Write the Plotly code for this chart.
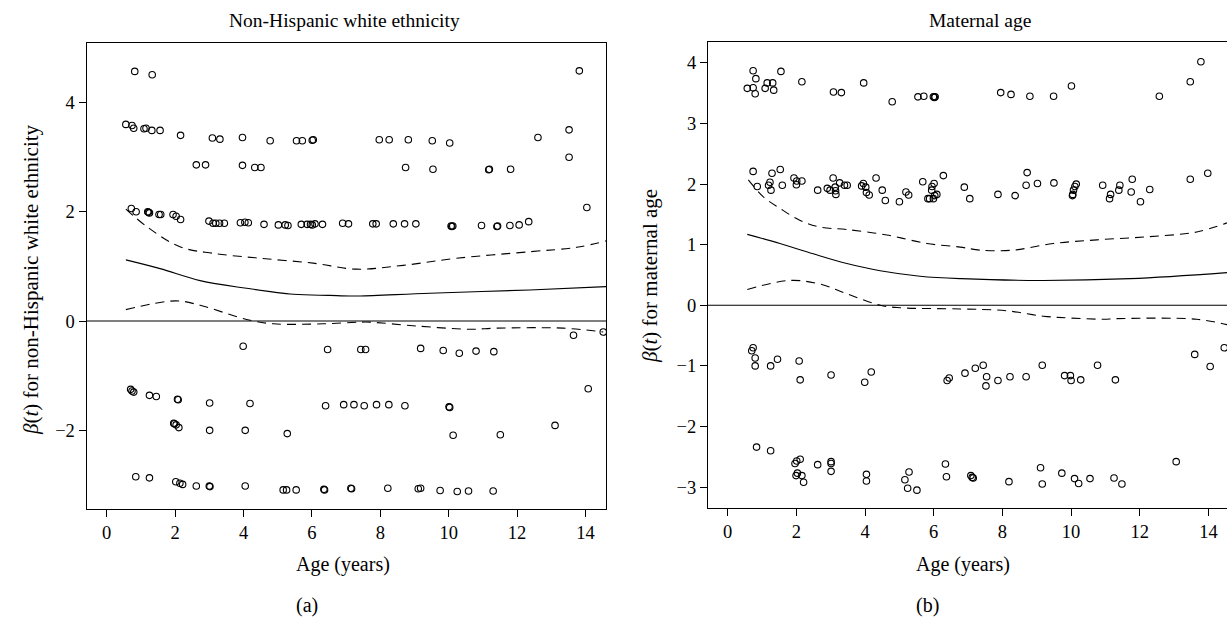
import plotly.graph_objects as go

# ---------------- Data: panel (a) Non-Hispanic white ethnicity ----------------
a_pts_x = [0.82, 1.33, 13.82,
           0.56, 0.74, 0.79, 1.09, 1.15, 1.32, 1.56, 2.16, 3.09, 3.31, 3.97, 4.78, 5.55, 5.72, 6.01, 6.04,
           7.97, 8.26, 8.82, 9.52, 10.03, 12.61, 13.52,
           2.62, 2.89, 3.97, 4.33, 4.51, 8.74, 9.54, 11.17, 11.19, 11.81, 13.52,
           0.72, 0.86, 1.20, 1.22, 1.25, 1.53, 1.58, 1.94, 2.03, 2.16, 2.99, 3.11, 3.19, 3.30, 3.44,
           3.91, 4.04, 4.14, 4.60, 5.02, 5.22, 5.30, 5.69, 5.86, 5.96, 6.01, 6.09, 6.31, 6.90, 7.07,
           7.78, 7.88, 8.38, 8.71, 9.04, 10.07, 10.09, 10.12, 10.96, 11.41, 11.43, 11.79, 12.06, 12.34, 14.04,
           3.99, 6.46, 7.43, 7.57, 9.18, 9.84, 10.31, 10.80, 11.32, 13.65, 14.52,
           0.70, 0.74, 0.79, 1.25, 1.45, 2.07, 2.09, 3.01, 4.19, 6.40, 6.93, 7.23, 7.53, 7.89, 8.25, 8.72,
           10.01, 10.03, 14.08,
           1.96, 1.98, 2.03, 2.11, 3.01, 4.05, 5.28, 10.13, 11.51, 13.11,
           0.85, 1.25, 2.02, 2.14, 2.22, 2.62, 3.00, 3.02, 4.05, 5.16, 5.26, 5.54, 6.35, 6.37, 7.14, 7.16,
           8.22, 9.11, 9.18, 9.75, 10.25, 10.58, 11.30]
a_pts_y = [4.57, 4.51, 4.58,
           3.60, 3.58, 3.53, 3.52, 3.53, 3.49, 3.49, 3.40, 3.35, 3.33, 3.36, 3.30, 3.30, 3.30, 3.31, 3.32,
           3.32, 3.32, 3.32, 3.30, 3.26, 3.36, 3.50,
           2.86, 2.86, 2.85, 2.81, 2.81, 2.81, 2.78, 2.77, 2.78, 2.78, 3.00,
           2.06, 2.00, 2.00, 1.99, 1.98, 1.95, 1.95, 1.95, 1.92, 1.86, 1.83, 1.79, 1.79, 1.79, 1.79,
           1.80, 1.81, 1.80, 1.77, 1.76, 1.76, 1.75, 1.77, 1.77, 1.77, 1.76, 1.78, 1.77, 1.79, 1.78,
           1.78, 1.78, 1.78, 1.78, 1.78, 1.74, 1.73, 1.74, 1.75, 1.73, 1.74, 1.75, 1.76, 1.82, 2.08,
           -0.46, -0.52, -0.52, -0.52, -0.50, -0.54, -0.59, -0.55, -0.56, -0.26, -0.20,
           -1.25, -1.28, -1.30, -1.36, -1.38, -1.43, -1.44, -1.50, -1.51, -1.55, -1.53, -1.53, -1.55, -1.53, -1.53, -1.55,
           -1.57, -1.58, -1.24,
           -1.87, -1.88, -1.90, -1.95, -2.00, -2.00, -2.06, -2.09, -2.08, -1.91,
           -2.85, -2.87, -2.94, -2.97, -2.99, -3.02, -3.02, -3.03, -3.02, -3.09, -3.09, -3.09, -3.08, -3.09, -3.06, -3.07,
           -3.06, -3.07, -3.06, -3.10, -3.12, -3.11, -3.11]

a_fit_x = [0.56, 1.56, 2.73, 4.09, 5.46, 6.53, 7.11, 7.41, 9.45, 12.37, 14.6]
a_fit_y = [1.12, 0.96, 0.74, 0.60, 0.49, 0.47, 0.46, 0.46, 0.51, 0.57, 0.63]
a_up_x = [0.56, 1.17, 2.14, 3.12, 4.48, 6.04, 7.31, 8.67, 10.23, 12.38, 13.74, 14.62]
a_up_y = [2.05, 1.73, 1.36, 1.24, 1.15, 1.06, 0.95, 1.02, 1.15, 1.27, 1.35, 1.47]
a_lo_x = [0.56, 2.02, 2.73, 4.09, 4.87, 6.33, 7.41, 7.70, 9.06, 10.62, 11.40, 13.35, 14.52]
a_lo_y = [0.21, 0.37, 0.29, 0.03, -0.05, -0.05, -0.02, -0.02, -0.09, -0.15, -0.13, -0.13, -0.20]

# ---------------- Data: panel (b) Maternal age ----------------
b_pts_x = [0.57, 0.74, 0.74, 0.82, 0.80, 1.09, 1.15, 1.31, 1.34, 1.55, 2.16, 3.08, 3.31, 3.96, 4.79, 5.54,
           5.71, 5.99, 6.04, 6.02, 7.95, 8.25, 8.80, 9.49, 10.01, 12.57, 13.47, 13.78,
           0.74, 0.86, 1.19, 1.23, 1.26, 1.29, 1.53, 1.59, 1.93, 2.00, 2.01, 2.16, 2.62, 2.90, 2.98, 3.13,
           3.14, 3.15, 3.07, 3.26, 3.40, 3.48, 3.90, 3.95, 4.02, 4.04, 4.12, 4.32, 4.50, 4.59, 5.00, 5.19,
           5.27, 5.68, 5.83, 5.88, 5.94, 5.95, 6.01, 5.99, 6.03, 6.09, 6.28, 6.89, 7.05, 7.87, 8.37, 8.69,
           8.72, 9.02, 9.50, 10.04, 10.05, 10.07, 10.11, 10.15, 10.92, 11.12, 11.15, 11.39, 11.42, 11.75,
           11.78, 12.02, 12.29, 13.47, 13.98,
           0.74, 0.70, 0.80, 0.80, 1.25, 1.45, 2.08, 2.11, 3.01, 3.99, 4.18, 6.39, 6.45, 6.91, 7.21, 7.44,
           7.54, 7.52, 7.87, 8.22, 8.69, 9.16, 9.81, 9.98, 10.00, 10.28, 10.77, 11.29, 13.60, 14.05, 14.46,
           0.84, 1.25, 1.96, 2.01, 2.11, 1.99, 2.03, 2.16, 2.21, 2.62, 3.01, 3.01, 3.01, 4.04, 4.04, 5.16,
           5.24, 5.28, 5.51, 6.34, 6.37, 7.08, 7.12, 7.15, 8.19, 9.11, 9.16, 9.73, 10.10, 10.22, 10.55,
           11.25, 11.48, 13.06]
b_pts_y = [3.58, 3.59, 3.87, 3.74, 3.49, 3.58, 3.67, 3.67, 3.55, 3.86, 3.69, 3.52, 3.51, 3.67, 3.36, 3.44,
           3.45, 3.44, 3.44, 3.43, 3.51, 3.48, 3.45, 3.45, 3.62, 3.45, 3.69, 4.02,
           2.21, 1.96, 1.98, 2.03, 1.90, 2.18, 2.24, 1.98, 2.10, 1.99, 2.05, 2.05, 1.90, 1.93, 1.90, 1.95,
           1.89, 1.83, 2.10, 2.02, 1.98, 1.98, 1.97, 2.01, 1.95, 1.86, 1.82, 2.10, 1.90, 1.73, 1.71, 1.87,
           1.82, 2.04, 1.76, 1.76, 1.90, 1.96, 2.01, 1.76, 1.81, 1.83, 2.14, 1.95, 1.76, 1.83, 1.81, 1.98,
           2.19, 2.01, 2.02, 1.81, 1.83, 1.90, 1.96, 2.00, 1.98, 1.76, 1.83, 1.90, 1.98, 1.87,
           2.08, 1.71, 1.91, 2.08, 2.18,
           -0.70, -0.75, -0.87, -1.00, -1.00, -0.89, -0.92, -1.23, -1.15, -1.27, -1.10, -1.24, -1.20, -1.12,
           -1.04, -0.99, -1.18, -1.33, -1.24, -1.18, -1.18, -0.99, -1.16, -1.16, -1.24, -1.23, -0.99, -1.23,
           -0.81, -1.01, -0.70,
           -2.34, -2.40, -2.61, -2.57, -2.54, -2.81, -2.77, -2.81, -2.92, -2.63, -2.58, -2.61, -2.74, -2.79,
           -2.90, -2.88, -3.02, -2.75, -3.05, -2.62, -2.83, -2.81, -2.84, -2.85, -2.91, -2.68, -2.95, -2.77,
           -2.86, -2.94, -2.86, -2.85, -2.95, -2.58]

b_fit_x = [0.57, 1.52, 2.49, 3.47, 4.44, 5.60, 6.80, 9.10, 11.72, 14.54]
b_fit_y = [1.17, 1.02, 0.85, 0.69, 0.57, 0.48, 0.44, 0.41, 0.44, 0.54]
b_up_x = [0.60, 1.04, 1.52, 2.11, 2.69, 3.47, 4.63, 5.80, 6.77, 7.35, 8.32, 9.48, 10.75, 12.21, 13.66, 14.54]
b_up_y = [2.07, 1.79, 1.60, 1.40, 1.29, 1.25, 1.16, 1.02, 0.96, 0.91, 0.91, 1.02, 1.08, 1.13, 1.21, 1.36]
b_lo_x = [0.57, 1.81, 2.69, 3.47, 4.44, 5.02, 6.77, 8.13, 9.19, 9.97, 10.94, 11.33, 13.66, 14.54]
b_lo_y = [0.26, 0.41, 0.35, 0.19, 0.00, -0.04, -0.06, -0.09, -0.18, -0.21, -0.23, -0.22, -0.23, -0.32]

x_ticks = [0, 2, 4, 6, 8, 10, 12, 14]
a_y_ticks = [-2, 0, 2, 4]
b_y_ticks = [-3, -2, -1, 0, 1, 2, 3, 4]

FONT = "Liberation Serif"
W, H = 1227, 617

fig = go.Figure()


def add_panel(px, py, fx, fy, ux, uy, lx, ly, xa, ya):
    fig.add_trace(go.Scatter(x=px, y=py, mode="markers", xaxis=xa, yaxis=ya,
                             marker=dict(symbol="circle-open", size=6.5, color="black",
                                         line=dict(width=1.1, color="black")),
                             showlegend=False, hoverinfo="skip"))
    fig.add_trace(go.Scatter(x=fx, y=fy, mode="lines", xaxis=xa, yaxis=ya,
                             line=dict(color="black", width=1.1, shape="spline"),
                             showlegend=False, hoverinfo="skip"))
    for sx, sy in ((ux, uy), (lx, ly)):
        fig.add_trace(go.Scatter(x=sx, y=sy, mode="lines", xaxis=xa, yaxis=ya,
                                 line=dict(color="black", width=1.1, dash="9px,6px", shape="spline"),
                                 showlegend=False, hoverinfo="skip"))


add_panel(a_pts_x, a_pts_y, a_fit_x, a_fit_y, a_up_x, a_up_y, a_lo_x, a_lo_y, "x", "y")
add_panel(b_pts_x, b_pts_y, b_fit_x, b_fit_y, b_up_x, b_up_y, b_lo_x, b_lo_y, "x2", "y2")

axis_common = dict(showline=True, mirror=True, linecolor="black", linewidth=1.3,
                   ticks="outside", ticklen=7, tickwidth=1.1, tickcolor="black",
                   showgrid=False, zeroline=False,
                   tickfont=dict(family=FONT, size=18.5, color="black"))

fig.update_layout(
    width=W, height=H,
    margin=dict(l=0, r=0, t=0, b=0),
    paper_bgcolor="white", plot_bgcolor="white",
    xaxis=dict(domain=[86.7 / W, 606 / W], range=[-0.585, 14.6], tickvals=x_ticks,
               anchor="y", **axis_common),
    yaxis=dict(domain=[1 - 509 / H, 1 - 43 / H], range=[-3.44, 5.09], tickvals=a_y_ticks,
               anchor="x", **axis_common),
    xaxis2=dict(domain=[708 / W, 1.0], range=[-0.574, 14.54], tickvals=x_ticks,
                anchor="y2", **axis_common),
    yaxis2=dict(domain=[1 - 507.7 / H, 1 - 42.3 / H], range=[-3.34, 4.34], tickvals=b_y_ticks,
                anchor="x2", **axis_common),
    shapes=[
        dict(type="line", xref="x domain", yref="y", x0=0, x1=1, y0=0, y1=0,
             line=dict(color="black", width=1.1)),
        dict(type="line", xref="x2 domain", yref="y2", x0=0, x1=1, y0=0, y1=0,
             line=dict(color="black", width=1.1)),
    ],
)


def ann(text, x, y, size, angle=0):
    fig.add_annotation(text=text, x=x / W, y=1 - y / H, xref="paper", yref="paper",
                       xanchor="center", yanchor="middle", showarrow=False, textangle=angle,
                       font=dict(family=FONT, size=size, color="black"))


ann("Non-Hispanic white ethnicity", 344, 21, 19.5)
ann("Maternal age", 980, 21, 19.5)
ann("Age (years)", 343, 564, 20)
ann("Age (years)", 963, 564, 20)
ann("(a)", 307, 605, 20)
ann("(b)", 927, 605, 20)
ann("<i>β</i>(<i>t</i>) for non-Hispanic white ethnicity", 31, 280, 21, -90)
ann("<i>β</i>(<i>t</i>) for maternal age", 650, 276, 21, -90)

fig.write_html("out.html", config={"displayModeBar": False},
               post_script="document.body.style.margin='0px';document.body.style.overflow='hidden';")
